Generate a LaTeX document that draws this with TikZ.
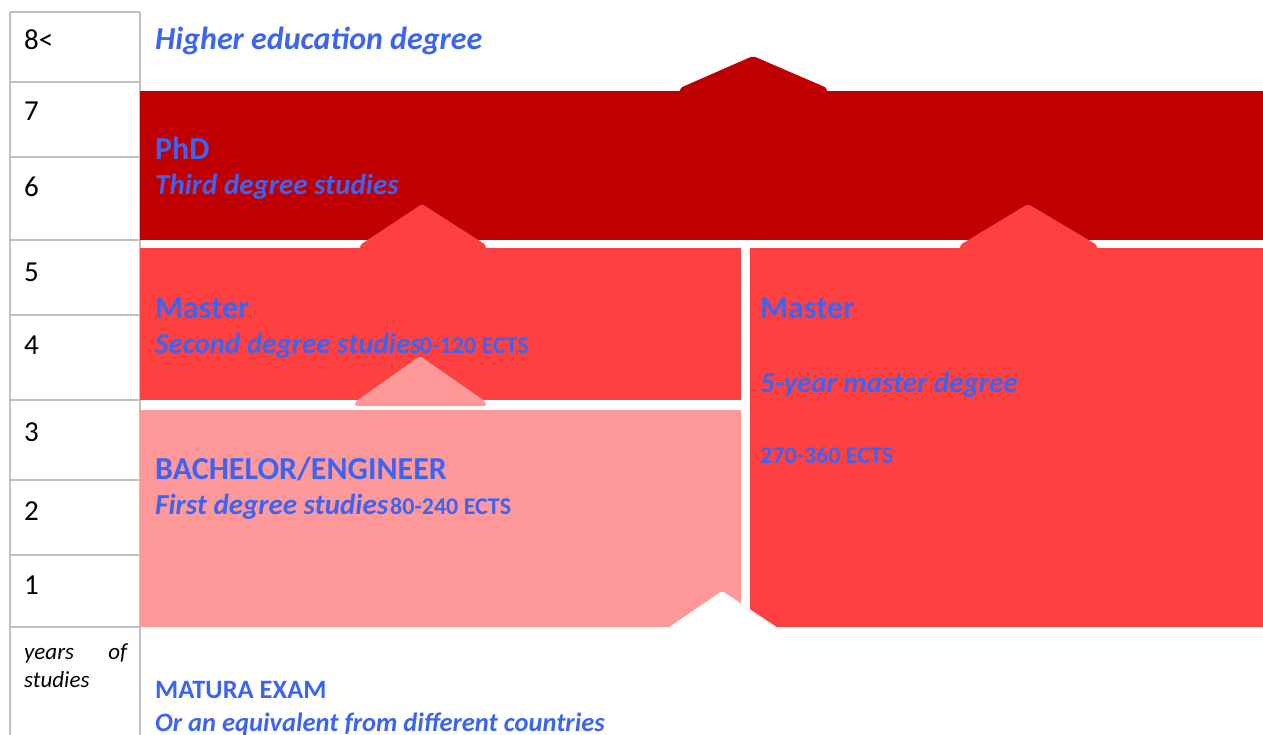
\documentclass[tikz,border=0pt]{standalone}
\usepackage{fontspec}
\setmainfont{Carlito}
\definecolor{phdred}{HTML}{C00000}
\definecolor{masterred}{HTML}{FF4040}
\definecolor{bachpink}{HTML}{FF9999}
\definecolor{degblue}{HTML}{3B64F5}
\definecolor{gridgray}{HTML}{C0C0C0}
\begin{document}
\begin{tikzpicture}[x=1pt,y=-1pt]
  \tikzstyle{year}=[anchor=base west,inner sep=0pt,font=\fontsize{29}{34}\selectfont]
  \tikzstyle{title}=[anchor=base west,inner sep=0pt,text=degblue,font=\fontsize{32}{38}\selectfont\bfseries]
  \tikzstyle{subtitle}=[title,font=\fontsize{29}{34}\selectfont\bfseries\itshape]
  \tikzstyle{ects}=[anchor=base west,inner sep=0pt,text=degblue,font=\fontsize{24}{28}\selectfont\bfseries]
  \tikzstyle{gridline}=[draw=gridgray,line width=1.2pt]

    \useasboundingbox (0,0) rectangle (1263,735);

    % year column
    \path[gridline] (10,12) -- (10,735);
    \path[gridline] (140,12) -- (140,735);
    \foreach \y in {12,82,157,240,315,400,480,555,627}
      \path[gridline] (10,\y) -- (140,\y);

    \node[year] (y8) at (24,50) {8<};
    \node[year] (y7) at (24,121) {7};
    \node[year] (y6) at (24,197) {6};
    \node[year] (y5) at (24,281) {5};
    \node[year] (y4) at (24,354) {4};
    \node[year] (y3) at (24,441) {3};
    \node[year] (y2) at (24,520) {2};
    \node[year] (y1) at (24,594) {1};
    \node[anchor=base west,inner sep=0pt,text width=103pt,align=justify,
          font=\fontsize{23}{28}\selectfont\itshape] (ystud) at (24,659) {years of studies};

    % degree boxes
    \fill[phdred] (140,91) rectangle (1263,240);
    \fill[phdred,rounded corners=2pt] (680,92) -- (680,88) -- (753,56) -- (827,88) -- (827,92) -- cycle;
    \fill[masterred] (140,248) rectangle (741,400);
    \fill[masterred] (750,248) rectangle (1263,627);
    \fill[masterred,rounded corners=2pt] (360,249) -- (360,245) -- (422,204) -- (486,245) -- (486,249) -- cycle;
    \fill[masterred,rounded corners=2pt] (960,249) -- (960,245) -- (1028,204) -- (1097,245) -- (1097,249) -- cycle;
    \fill[bachpink] (140,410) rectangle (741,627);
    \fill[bachpink,rounded corners=2pt] (355,406) -- (355,402) -- (420,356) -- (486,402) -- (486,406) -- cycle;
    \fill[white,rounded corners=2pt] (668,628) -- (722,591) -- (778,628) -- cycle;

    % labels
    \node[subtitle,font=\fontsize{32}{38}\selectfont\bfseries\itshape] (hed) at (155,50) {Higher education degree};
    \node[title] (phd) at (155,160) {PhD};
    \node[subtitle] (phdsub) at (155,195) {Third degree studies};
    \node[title] (mas) at (155,318) {Master};
    \node[subtitle] (massub) at (155,353) {Second degree studies};
    \node[ects] (masects) at (420,353) {0-120 ECTS};
    \node[title] (bach) at (155,479) {BACHELOR/ENGINEER};
    \node[subtitle] (bachsub) at (155,514) {First degree studies};
    \node[ects] (bachects) at (390,514) {80-240 ECTS};
    \node[title] (mas5) at (760,318) {Master};
    \node[subtitle] (mas5sub) at (760,392) {5-year master degree};
    \node[ects] (mas5ects) at (760,463) {270-360 ECTS};
    \node[title,font=\fontsize{26.5}{31}\selectfont\bfseries] (mat) at (155,698) {MATURA EXAM};
    \node[subtitle,font=\fontsize{26.5}{31}\selectfont\bfseries\itshape] (matsub) at (155,731) {Or an equivalent from different countries};
\end{tikzpicture}
\end{document}
